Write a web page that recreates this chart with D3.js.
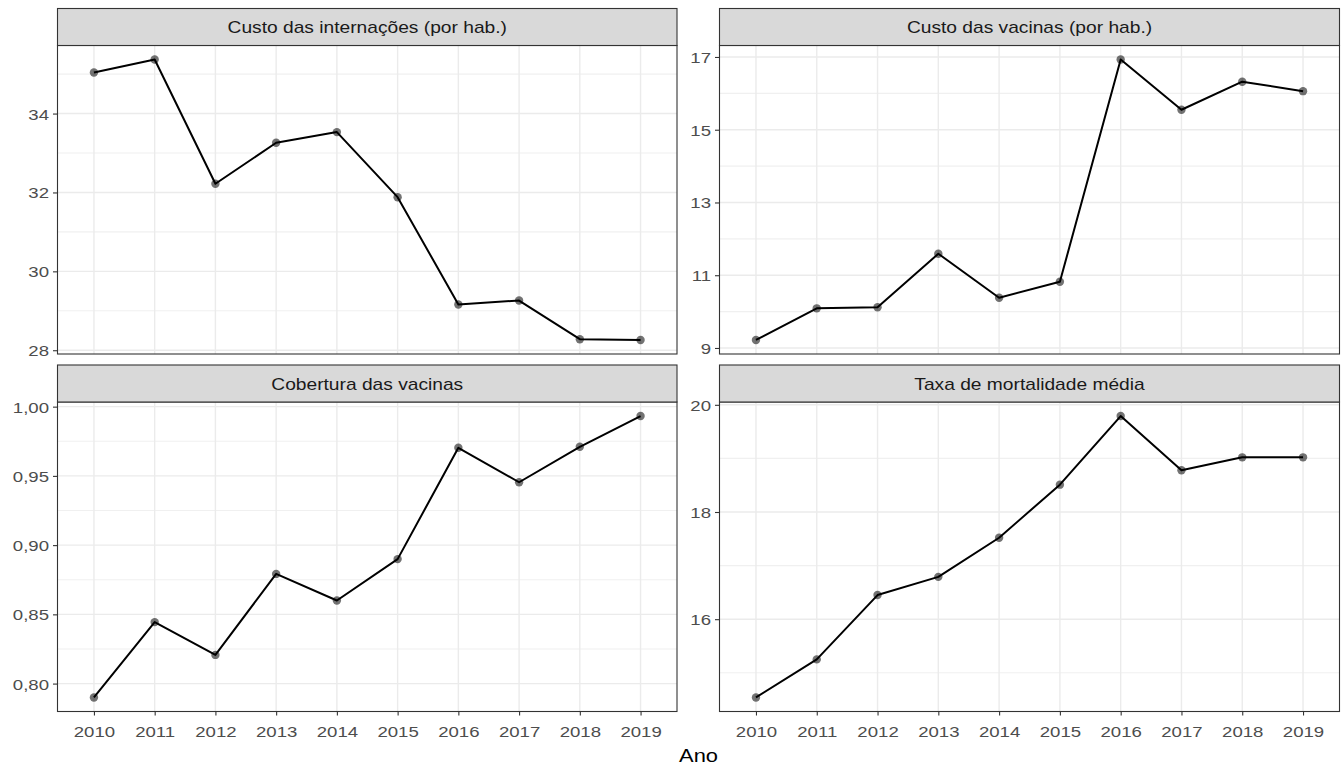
<!DOCTYPE html>
<html>
<head>
<meta charset="utf-8">
<script src="https://cdn.jsdelivr.net/npm/d3@7"></script>
<style>
  body { margin: 0; background: #fff; }
  text { font-family: 'Liberation Sans', Arial, sans-serif; }
</style>
</head>
<body>
<div id="chart"></div>
<script>
// Data
const years = [2010, 2011, 2012, 2013, 2014, 2015, 2016, 2017, 2018, 2019];
const custoInternacoes = [35.04, 35.37, 32.22, 33.26, 33.53, 31.88, 29.16, 29.26, 28.28, 28.26];
const custoVacinas = [9.22, 10.09, 10.12, 11.59, 10.38, 10.82, 16.93, 15.55, 16.32, 16.06];
const coberturaVacinas = [0.790, 0.8444, 0.8207, 0.8792, 0.860, 0.8899, 0.9703, 0.9454, 0.971, 0.9932];
const taxaMortalidade = [14.54, 15.25, 16.45, 16.79, 17.52, 18.51, 19.79, 18.78, 19.02, 19.02];

const titles = ['Custo das internações (por hab.)', 'Custo das vacinas (por hab.)',
  'Cobertura das vacinas', 'Taxa de mortalidade média'];
const ticksInternacoes = [28, 30, 32, 34];
const ticksVacinas = [9, 11, 13, 15, 17];
const ticksCobertura = [0.80, 0.85, 0.90, 0.95, 1.00];
const ticksMortalidade = [16, 18, 20];
const xLabel = 'Ano';

// Dimensions
const WIDTH = 1344;
const HEIGHT = 767;
const COLS = [{ left: 57.5, right: 677 }, { left: 719.5, right: 1339.5 }];
const ROWS = [{ strip: 8.5, top: 45.5, bottom: 354 }, { strip: 365, top: 402, bottom: 711.5 }];
const SX = 1.2; // reference text is slightly stretched horizontally

const svg = d3
  .select('#chart')
  .append('svg')
  .attr('width', WIDTH)
  .attr('height', HEIGHT);

const fmtComma = (d) => d3.format('.2f')(d).replace('.', ',');

const panels = [
  { title: titles[0], values: custoInternacoes, ticks: ticksInternacoes, fmt: d3.format('d'), col: 0, row: 0 },
  { title: titles[1], values: custoVacinas, ticks: ticksVacinas, fmt: d3.format('d'), col: 1, row: 0 },
  { title: titles[2], values: coberturaVacinas, ticks: ticksCobertura, fmt: fmtComma, col: 0, row: 1 },
  { title: titles[3], values: taxaMortalidade, ticks: ticksMortalidade, fmt: d3.format('d'), col: 1, row: 1 }
];

panels.forEach((p) => {
  const c = COLS[p.col];
  const r = ROWS[p.row];
  const data = years.map((y, i) => ({ year: y, value: p.values[i] }));

  // Scales (ggplot style 5% / 0.6 unit expansion)
  const x = d3.scaleLinear()
    .domain([years[0] - 0.6, years[years.length - 1] + 0.6])
    .range([c.left, c.right]);
  const [lo, hi] = d3.extent(p.values);
  const pad = (hi - lo) * 0.05;
  const y = d3.scaleLinear().domain([lo - pad, hi + pad]).range([r.bottom, r.top]);

  const g = svg.append('g');

  // Minor grid
  const step = p.ticks[1] - p.ticks[0];
  const minor = [];
  for (let i = 0; i < p.ticks.length + 1; i++) {
    const v = p.ticks[0] - step / 2 + i * step;
    if (v > y.domain()[0] && v < y.domain()[1]) minor.push(v);
  }
  g.selectAll('.minor')
    .data(minor)
    .enter()
    .append('line')
    .attr('x1', c.left).attr('x2', c.right)
    .attr('y1', (d) => y(d)).attr('y2', (d) => y(d))
    .attr('stroke', '#f0f0f0')
    .attr('stroke-width', 1.1);

  // Major grid
  g.selectAll('.hmajor')
    .data(p.ticks)
    .enter()
    .append('line')
    .attr('x1', c.left).attr('x2', c.right)
    .attr('y1', (d) => y(d)).attr('y2', (d) => y(d))
    .attr('stroke', '#ebebeb')
    .attr('stroke-width', 1.4);
  g.selectAll('.vmajor')
    .data(years)
    .enter()
    .append('line')
    .attr('x1', (d) => x(d)).attr('x2', (d) => x(d))
    .attr('y1', r.top).attr('y2', r.bottom)
    .attr('stroke', '#ebebeb')
    .attr('stroke-width', 1.4);

  // Line
  const line = d3.line().x((d) => x(d.year)).y((d) => y(d.value));
  g.append('path')
    .datum(data)
    .attr('d', line)
    .attr('fill', 'none')
    .attr('stroke', '#000')
    .attr('stroke-width', 2)
    .attr('stroke-linejoin', 'round');

  // Points
  g.selectAll('circle')
    .data(data)
    .enter()
    .append('circle')
    .attr('cx', (d) => x(d.year))
    .attr('cy', (d) => y(d.value))
    .attr('r', 4.2)
    .attr('fill', '#000')
    .attr('fill-opacity', 0.55);

  // Panel border
  g.append('rect')
    .attr('x', c.left).attr('y', r.top)
    .attr('width', c.right - c.left).attr('height', r.bottom - r.top)
    .attr('fill', 'none')
    .attr('stroke', '#333')
    .attr('stroke-width', 1.1);

  // Strip
  g.append('rect')
    .attr('x', c.left).attr('y', r.strip)
    .attr('width', c.right - c.left).attr('height', r.top - r.strip)
    .attr('fill', '#d9d9d9')
    .attr('stroke', '#333')
    .attr('stroke-width', 1.1);
  g.append('text')
    .attr('transform', `translate(${(c.left + c.right) / 2}, ${(r.strip + r.top) / 2 + 6}) scale(${SX},1)`)
    .attr('text-anchor', 'middle')
    .attr('font-size', 16)
    .attr('fill', '#1a1a1a')
    .text(p.title);

  // Y axis
  const yAxisCall = d3.axisLeft(y).tickValues(p.ticks).tickFormat(p.fmt).tickSize(4.5).tickSizeOuter(0);
  const ya = g.append('g').attr('transform', `translate(${c.left}, 0)`).call(yAxisCall);
  ya.select('.domain').remove();
  ya.selectAll('line').attr('stroke', '#333').attr('stroke-width', 1.1);
  ya.selectAll('text')
    .attr('x', null)
    .attr('dy', null)
    .attr('transform', `translate(-8.5, 5.5) scale(${SX},1)`)
    .attr('font-size', 15.5)
    .attr('font-family', null)
    .attr('fill', '#4d4d4d');

  // X axis (bottom row only)
  if (p.row === 1) {
    const xAxisCall = d3.axisBottom(x).tickValues(years).tickFormat(d3.format('d')).tickSize(4).tickSizeOuter(0);
    const xa = g.append('g').attr('transform', `translate(0, ${r.bottom})`).call(xAxisCall);
    xa.select('.domain').remove();
    xa.selectAll('line').attr('stroke', '#333').attr('stroke-width', 1.1);
    xa.selectAll('text')
      .attr('y', null)
      .attr('dy', null)
      .attr('transform', `translate(0, 25.5) scale(${SX},1)`)
      .attr('font-size', 15.5)
      .attr('font-family', null)
      .attr('fill', '#4d4d4d');
  }
});

// Axis title
svg.append('text')
  .attr('transform', `translate(${(COLS[0].left + COLS[1].right) / 2}, 762) scale(1.15,1)`)
  .attr('text-anchor', 'middle')
  .attr('font-size', 19)
  .attr('fill', '#000')
  .text(xLabel);
</script>
</body>
</html>
